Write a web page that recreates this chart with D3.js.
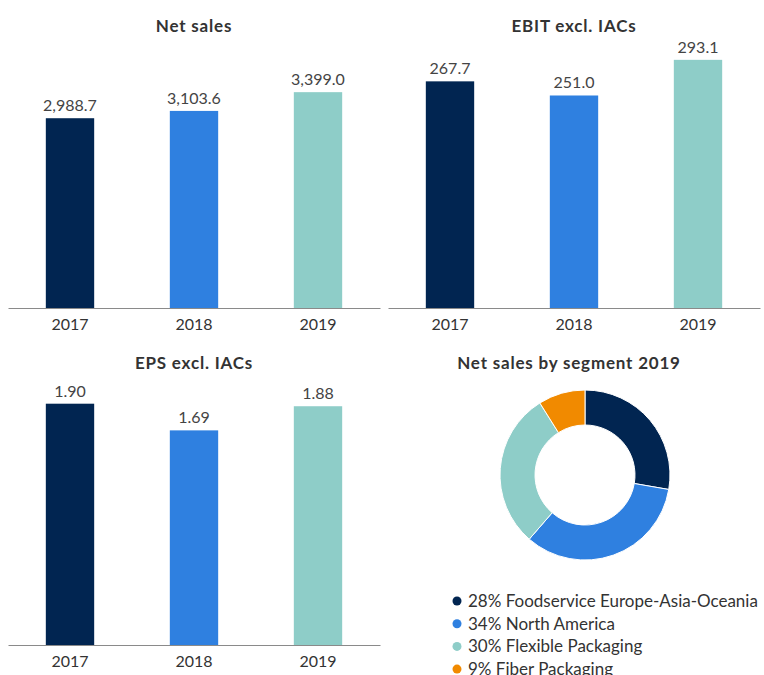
<!DOCTYPE html>
<html>
<head>
<meta charset="utf-8">
<script src="https://cdn.jsdelivr.net/npm/d3@7"></script>
<style>
    body { margin: 0; background: #fff; font-family: Lato, 'Open Sans', sans-serif; }
    svg { display: block; }
    .title { font-size: 17px; font-weight: bold; letter-spacing: 0.8px; fill: #333; }
    .value { font-size: 16px; fill: #444; }
    .axis text { font-size: 16px; fill: #333; font-family: Lato, sans-serif; }
    .axis path { stroke: #8a8a8a; }
    .legend text { font-size: 17px; fill: #333; }
</style>
</head>
<body>
<svg id="chart" width="764" height="675"></svg>
<script>
// data
const years = ['2017', '2018', '2019'];
const netSales = [2988.7, 3103.6, 3399.0];
const ebit = [267.7, 251.0, 293.1];
const eps = [1.90, 1.69, 1.88];
const yearColors = ['#012551', '#2f80e0', '#8ecdc8'];

const segments = ['Foodservice Europe-Asia-Oceania', 'North America', 'Flexible Packaging', 'Fiber Packaging'];
const segmentShares = [28, 34, 30, 9];
const segmentColors = ['#012551', '#2f80e0', '#8ecdc8', '#f18a00'];

const svg = d3.select('#chart');

function barPanel({ x0, baseline, title, titleY, values, max, format }) {
    const g = svg.append('g');

    const x = d3.scaleBand()
        .domain(years)
        .range([x0 + 8, x0 + 380])
        .paddingInner(0.61)
        .paddingOuter(0.305);

    const y = d3.scaleLinear()
        .domain([0, max])
        .range([baseline, baseline - 254]);

    g.append('text')
        .attr('class', 'title')
        .attr('x', x0 + 194)
        .attr('y', titleY)
        .attr('text-anchor', 'middle')
        .text(title);

    const rows = years.map((year, i) => ({ year, value: values[i], color: yearColors[i] }));

    g.selectAll('rect')
        .data(rows)
        .enter()
        .append('rect')
        .attr('x', d => x(d.year))
        .attr('y', d => y(d.value))
        .attr('width', x.bandwidth())
        .attr('height', d => baseline - y(d.value))
        .attr('fill', d => d.color);

    g.selectAll('text.value')
        .data(rows)
        .enter()
        .append('text')
        .attr('class', 'value')
        .attr('text-anchor', 'middle')
        .attr('x', d => x(d.year) + x.bandwidth() / 2)
        .attr('y', d => y(d.value) - 7)
        .text(d => format(d.value));

    g.append('g')
        .attr('class', 'axis')
        .attr('transform', `translate(0,${baseline})`)
        .call(d3.axisBottom(x).tickSize(0).tickPadding(11))
        .call(a => a.selectAll('text').attr('font-size', null));
}

barPanel({ x0: 0, baseline: 308, title: 'Net sales', titleY: 32, values: netSales, max: 4000, format: d3.format(',.1f') });
barPanel({ x0: 380, baseline: 308, title: 'EBIT excl. IACs', titleY: 32, values: ebit, max: 300, format: d3.format(',.1f') });
barPanel({ x0: 0, baseline: 645, title: 'EPS excl. IACs', titleY: 369, values: eps, max: 2, format: d3.format('.2f') });

// donut
const donut = svg.append('g');
donut.append('text')
    .attr('class', 'title')
    .attr('x', 569)
    .attr('y', 369)
    .attr('text-anchor', 'middle')
    .text('Net sales by segment 2019');

const pie = d3.pie().sort(null).value(d => d.share);
const arc = d3.arc().innerRadius(50).outerRadius(85);
const slices = segments.map((name, i) => ({ name, share: segmentShares[i], color: segmentColors[i] }));

donut.append('g')
    .attr('transform', 'translate(585,475)')
    .selectAll('path')
    .data(pie(slices))
    .enter()
    .append('path')
    .attr('d', arc)
    .attr('fill', d => d.data.color)
    .attr('stroke', '#fff')
    .attr('stroke-width', 1);

const legend = donut.append('g').attr('class', 'legend');
const item = legend.selectAll('g')
    .data(slices)
    .enter()
    .append('g')
    .attr('transform', (d, i) => `translate(457,${601 + i * 22.7})`);

item.append('circle')
    .attr('r', 4.5)
    .attr('fill', d => d.color);

item.append('text')
    .attr('x', 11)
    .attr('dy', '0.35em')
    .text(d => `${d.share}% ${d.name}`);
</script>
</body>
</html>
